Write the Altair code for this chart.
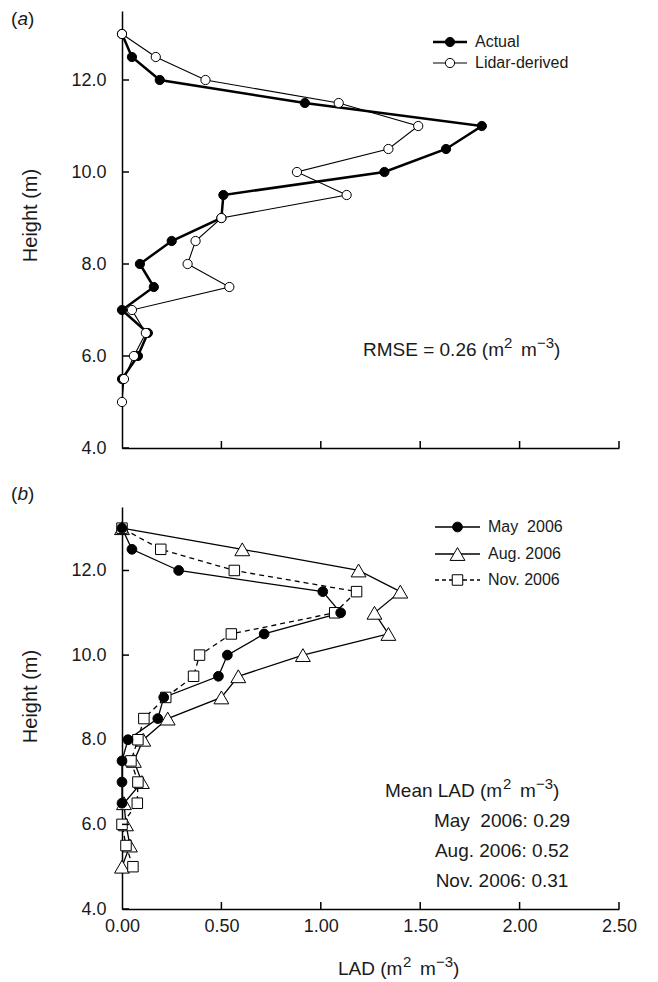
import altair as alt
import pandas as pd

# ---------------- data ----------------
heights = [13.0, 12.5, 12.0, 11.5, 11.0, 10.5, 10.0, 9.5, 9.0, 8.5, 8.0, 7.5, 7.0, 6.5, 6.0, 5.5, 5.0]

# panel (a)
actual_lad = [0.00, 0.05, 0.19, 0.92, 1.81, 1.63, 1.32, 0.51, 0.50, 0.25, 0.09, 0.16, 0.00, 0.13, 0.08, 0.00]
lidar_lad = [0.00, 0.17, 0.42, 1.09, 1.49, 1.34, 0.88, 1.13, 0.50, 0.37, 0.33, 0.54, 0.05, 0.12, 0.06, 0.01, 0.00]

# panel (b)
may_lad = [0.00, 0.05, 0.285, 1.01, 1.10, 0.715, 0.53, 0.485, 0.21, 0.18, 0.03, 0.00, 0.00, 0.00]
aug_lad = [0.00, 0.605, 1.19, 1.40, 1.27, 1.34, 0.91, 0.585, 0.50, 0.23, 0.107, 0.06, 0.10, 0.01, 0.02, 0.04, 0.00]
nov_lad = [0.00, 0.195, 0.565, 1.18, 1.07, 0.55, 0.39, 0.36, 0.22, 0.11, 0.08, 0.045, 0.08, 0.077, 0.00, 0.02, 0.055]

series_a = ["Actual", "Lidar-derived"]
series_b = ["May\u00a0 2006", "Aug. 2006", "Nov. 2006"]
mean_lad_lines = ["May\u00a0 2006: 0.29", "Aug. 2006: 0.52", "Nov. 2006: 0.31"]
rmse_base = "RMSE = 0.26 (m"
mean_base = "Mean LAD (m"
xtitle_base = "LAD (m"
unit_parts = ["2", "m", "\u22123", ")"]

y_ticks = [4.0, 6.0, 8.0, 10.0, 12.0]
x_ticks = [0.0, 0.5, 1.0, 1.5, 2.0, 2.5]

FONT = "Liberation Sans"
TXT = "#1a1a1a"
W = 497
HA = 437
HB = 402


def prof(vals):
    return pd.DataFrame({"height": heights[:len(vals)], "lad": vals})


xs = alt.Scale(domain=[0, 2.5], nice=False, zero=False)
ys = alt.Scale(domain=[4, 13.5], nice=False, zero=False)


def yaxis(title_y):
    return alt.Axis(values=y_ticks, format=".1f", ticks=False, labelPadding=16, labelFlush=False,
                    title="Height (m)", titleFontSize=20, titlePadding=30, titleY=title_y,
                    domainColor="black", domainWidth=1.5)


class Panel:
    def __init__(self, xa, ya, h):
        self.xa = xa
        self.ya = ya
        self.h = h

    def X(self):
        return alt.X("lad:Q", scale=xs, axis=self.xa)

    def Y(self):
        return alt.Y("height:Q", scale=ys, axis=self.ya)

    def ticks(self):
        yt = alt.Chart(pd.DataFrame({"height": y_ticks})).mark_rule(color="black", strokeWidth=1.5).encode(
            y=self.Y(), x=alt.value(0), x2=alt.value(7))
        xt = alt.Chart(pd.DataFrame({"lad": x_ticks[1:]})).mark_rule(color="black", strokeWidth=1.5).encode(
            x=self.X(), y=alt.value(self.h), y2=alt.value(self.h - 7))
        return [yt, xt]

    def line(self, vals, width, dash=None):
        kw = dict(color="black", strokeWidth=width)
        if dash:
            kw["strokeDash"] = dash
        return alt.Chart(prof(vals)).mark_line(**kw).encode(
            x=self.X(), y=self.Y(), order=alt.Order("height:Q"))

    def pts(self, vals, shape, size, filled_black):
        fill = "black" if filled_black else "white"
        return alt.Chart(prof(vals)).mark_point(shape=shape, size=size, filled=True, fill=fill,
                                                stroke="black", strokeWidth=1, opacity=1).encode(
            x=self.X(), y=self.Y())


def one(label):
    return pd.DataFrame({"label": [label]})


def legend_item(label, y, x1, x2, shape, size, filled_black, width, tx, dash=None):
    kw = dict(color="black", strokeWidth=width)
    if dash:
        kw["strokeDash"] = dash
    r = alt.Chart(one(label)).mark_rule(**kw).encode(x=alt.value(x1), x2=alt.value(x2), y=alt.value(y))
    p = alt.Chart(one(label)).mark_point(shape=shape, size=size, filled=True,
                                         fill="black" if filled_black else "white",
                                         stroke="black", strokeWidth=1, opacity=1).encode(
        x=alt.value((x1 + x2) / 2), y=alt.value(y))
    t = alt.Chart(one(label)).mark_text(align="left", baseline="middle", font=FONT, fontSize=16,
                                        color=TXT).encode(
        x=alt.value(tx), y=alt.value(y), text="label:N")
    return [r, p, t]


def txt(label, x, y, align="left", size=19, style="normal"):
    return alt.Chart(one(label)).mark_text(align=align, baseline="middle", font=FONT, fontSize=size,
                                           fontStyle=style, color=TXT).encode(
        x=alt.value(x), y=alt.value(y), text="label:N")


def unit_text(base, x, y, base_w, size=19):
    """base text followed by (m^2 m^-3) pieces, superscripts raised"""
    end = x + base_w
    out = [txt(base, x, y, size=size)]
    out.append(txt(unit_parts[0], end + 1, y - 7, size=15))
    out.append(txt(unit_parts[1], end + 18, y, size=size))
    out.append(txt(unit_parts[2], end + 34, y - 7, size=15))
    out.append(txt(unit_parts[3], end + 51, y, size=size))
    return out


def panel_label(letter, y):
    return [
        alt.Chart(one("(")).mark_text(align="left", baseline="top", font=FONT, fontSize=19, color=TXT).encode(
            x=alt.value(-111), y=alt.value(y), text="label:N"),
        alt.Chart(one(letter)).mark_text(align="left", baseline="top", font=FONT, fontSize=19,
                                         fontStyle="italic", color=TXT).encode(
            x=alt.value(-104.5), y=alt.value(y), text="label:N"),
        alt.Chart(one(")")).mark_text(align="left", baseline="top", font=FONT, fontSize=19, color=TXT).encode(
            x=alt.value(-94), y=alt.value(y), text="label:N"),
    ]


# ---------------- panel (a) ----------------
xa_a = alt.Axis(values=x_ticks, labels=False, ticks=False, title=None, domainColor="black", domainWidth=1.5)
pa = Panel(xa_a, yaxis(204), HA)
layers_a = [
    pa.line(actual_lad, 2.5),
    pa.line(lidar_lad, 1.1),
    pa.pts(actual_lad, "circle", 85, True),
    pa.pts(lidar_lad, "circle", 85, False),
] + pa.ticks()
layers_a += legend_item(series_a[0], 31, 311, 345, "circle", 85, True, 2.5, 353)
layers_a += legend_item(series_a[1], 52, 311, 345, "circle", 85, False, 1.1, 353)
layers_a += unit_text(rmse_base, 241, 339, 140)
layers_a += panel_label("a", -1)

panel_a = alt.layer(*layers_a).properties(width=W, height=HA)

# ---------------- panel (b) ----------------
xa_b = alt.Axis(values=x_ticks, format=".2f", ticks=False, labelPadding=8, labelFlush=False, title=None,
                domainColor="black", domainWidth=1.5)
pb = Panel(xa_b, yaxis(189), HB)
dash = [5, 4]
layers_b = [
    pb.line(aug_lad, 1.3),
    pb.line(nov_lad, 1.3, dash=dash),
    pb.line(may_lad, 1.3),
    pb.pts(aug_lad, "triangle-up", 220, False),
    pb.pts(nov_lad, "square", 110, False),
    pb.pts(may_lad, "circle", 95, True),
] + pb.ticks()
layers_b += legend_item(series_b[0], 20, 313, 358, "circle", 95, True, 1.3, 366)
layers_b += legend_item(series_b[1], 47, 313, 358, "triangle-up", 220, False, 1.3, 366)
layers_b += legend_item(series_b[2], 73, 313, 358, "square", 110, False, 1.3, 366, dash=[4, 3])
layers_b += unit_text(mean_base, 263, 284, 117)
layers_b += [txt(s, 380, 314 + 30 * i, align="center") for i, s in enumerate(mean_lad_lines)]
layers_b += unit_text(xtitle_base, 216, 462, 64)
layers_b += panel_label("b", -22)

panel_b = alt.layer(*layers_b).properties(width=W, height=HB)

chart = alt.vconcat(panel_a, panel_b, spacing=28).properties(
    padding={"left": 3, "top": 2, "right": 5, "bottom": 2}
).configure_view(stroke=None).configure_axis(
    grid=False, labelFont=FONT, labelFontSize=18, labelColor=TXT,
    titleFont=FONT, titleFontWeight="normal", titleColor=TXT
)

chart.save("out.html", embed_options={"renderer": "svg", "actions": False})
